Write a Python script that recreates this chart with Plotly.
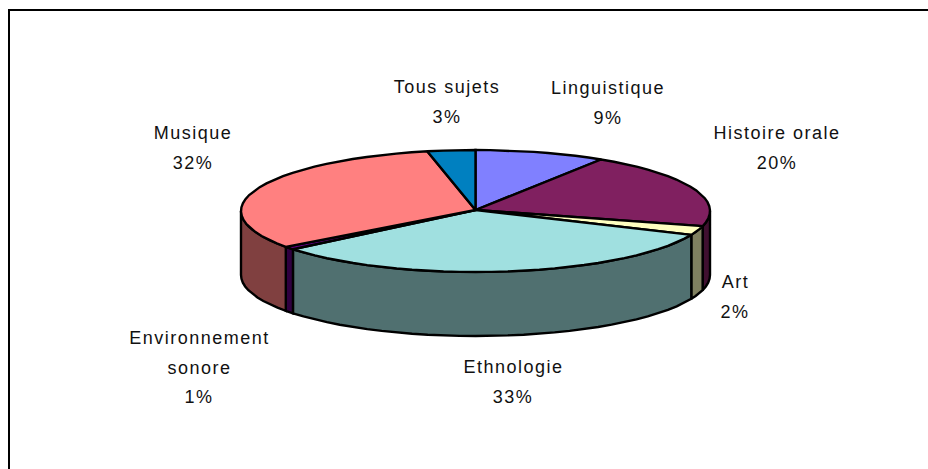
import numpy as np
import plotly.graph_objects as go

categories = ["Linguistique", "Histoire orale", "Art", "Ethnologie",
              "Environnement sonore", "Musique", "Tous sujets"]
shares = [9.0, 20.0, 2.4, 32.8, 0.8, 31.7, 3.3]
pct_labels = ["9%", "20%", "2%", "33%", "1%", "32%", "3%"]

# styling, one per category
top_colors = ["#8080FF", "#802060", "#FFFFC0", "#A0E0E0", "#600080", "#FF8080", "#0080C0"]
side_colors = ["#404080", "#401030", "#808060", "#507070", "#300040", "#804040", "#004060"]

# label lines and where they sit (x centre, y centre of each line, px)
label_lines = [["Linguistique"], ["Histoire orale"], ["Art"], ["Ethnologie"],
               ["Environnement", "sonore"], ["Musique"], ["Tous sujets"]]
label_x = [608, 777, 735, 513, 199, 193, 447]
label_y = [88, 133, 282, 367, 338, 133, 87]
LINE_STEP = 29.5

CX, CY = 475.5, 211
RX, RY = 234.5, 61
DEPTH = 64
INK = "#000000"


def rim(a0, a1):
    """Points on the top ellipse between two clockwise angles (radians from 12 o'clock)."""
    t = np.linspace(a0, a1, max(2, int((a1 - a0) / np.radians(4)) + 2))
    return CX + RX * np.sin(t), CY - RY * np.cos(t)


def mark(fig, xs, ys, color):
    fig.add_trace(go.Scatter(
        x=xs, y=ys, mode="lines", fill="toself", fillcolor=color,
        line=dict(color=INK, width=2.4), hoverinfo="skip", showlegend=False,
    ))


edges = np.cumsum([0] + shares) / sum(shares) * 2 * np.pi
fig = go.Figure()

# walls first: only the front half of the rim can be seen
for i in range(len(shares)):
    a0, a1 = max(edges[i], np.pi / 2), min(edges[i + 1], 3 * np.pi / 2)
    if a1 <= a0:
        continue
    x, y = rim(a0, a1)
    mark(fig,
         np.r_[x, x[::-1], x[0]],
         np.r_[y, y[::-1] + DEPTH, y[0]],
         side_colors[i])

# then the lid
for i in range(len(shares)):
    x, y = rim(edges[i], edges[i + 1])
    mark(fig, np.r_[CX, x, CX], np.r_[CY - 1, y, CY - 1], top_colors[i])

for i, lines in enumerate(label_lines):
    for j, txt in enumerate(lines + [pct_labels[i]]):
        fig.add_annotation(
            x=label_x[i], y=label_y[i] + j * LINE_STEP, text=txt,
            showarrow=False, xanchor="center", yanchor="middle",
            font=dict(family="Liberation Sans, Arial, sans-serif", size=18, color="#111111"),
        )

# chart frame runs off the right and bottom of the picture
fig.add_shape(type="rect", x0=9, y0=10, x1=940, y1=480,
              line=dict(color=INK, width=2), layer="below")

fig.update_layout(
    width=928, height=469,
    margin=dict(l=0, r=0, t=0, b=0),
    paper_bgcolor="white", plot_bgcolor="white",
    xaxis=dict(range=[0, 928], visible=False, fixedrange=True),
    yaxis=dict(range=[469, 0], visible=False, fixedrange=True),
    showlegend=False,
)

# Excel-style wide tracking on the labels, and no page margin round the chart
page_fix = """
document.body.style.margin = '0';
document.querySelectorAll('.annotation-text').forEach(function (t) {
    t.style.letterSpacing = '1.5px';
});
"""
fig.write_html("out.html", post_script=page_fix, config=dict(displayModeBar=False))
